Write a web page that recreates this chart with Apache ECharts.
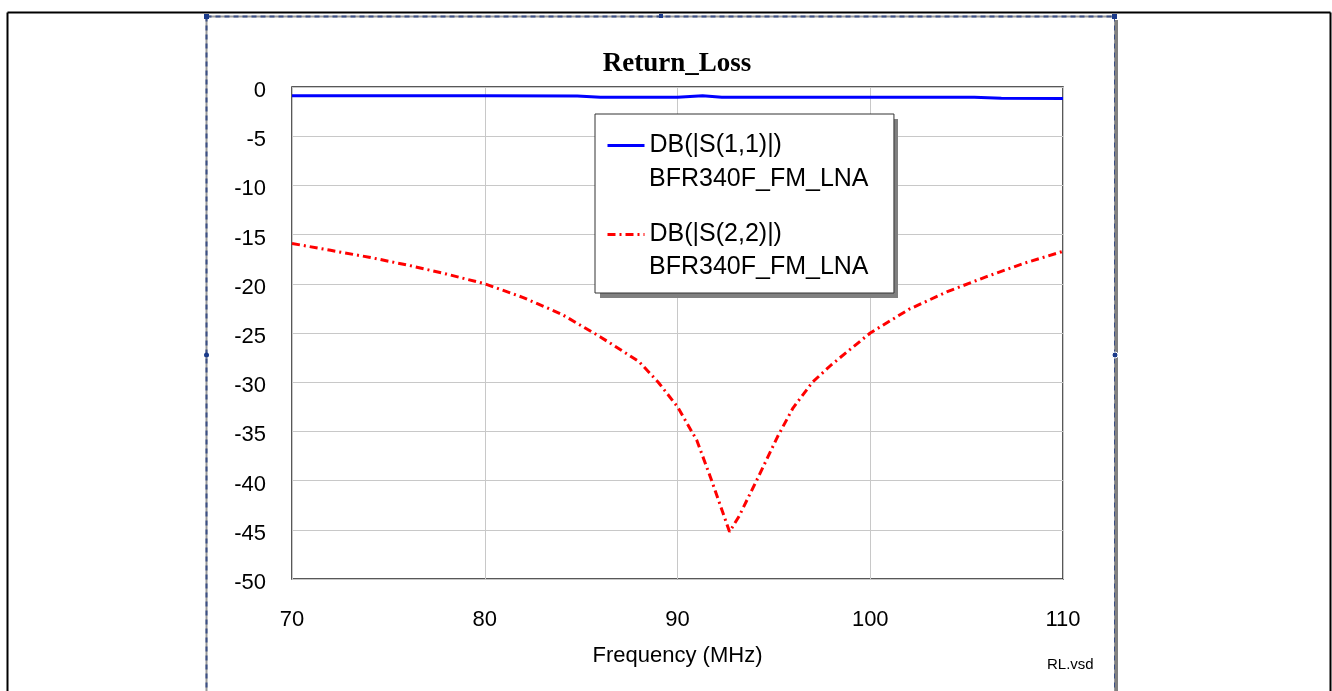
<!DOCTYPE html>
<html>
<head>
<meta charset="utf-8">
<script src="https://cdn.jsdelivr.net/npm/echarts@6/dist/echarts.min.js"></script>
<style>html,body{margin:0;padding:0;background:#fff;}#c{width:1332px;height:691px;}</style>
</head>
<body>
<div id="c"></div>
<script>
// ---- data ----
const s11Freq = [70, 75, 80, 84.8, 86, 88, 90, 91.3, 92.3, 95, 100, 105.4, 106.8, 110];
const s11Db   = [-0.9, -0.9, -0.9, -0.92, -1.05, -1.05, -1.05, -0.9, -1.05, -1.05, -1.05, -1.05, -1.15, -1.18];
const s22Freq = [70, 72, 74, 76, 78, 80, 82, 84, 86, 88, 89, 90, 91, 91.7, 92.7, 93.2, 94.2, 95.2, 96, 97, 98, 100, 102, 104, 106, 108, 110];
const s22Db   = [-15.9, -16.6, -17.3, -18.1, -19.0, -20.0, -21.4, -23.1, -25.4, -27.9, -30.0, -32.5, -35.9, -39.6, -45.2, -43.6, -39.6, -35.5, -32.6, -30.0, -28.2, -25.0, -22.6, -20.8, -19.3, -17.9, -16.7];
const seriesNames = ['DB(|S(1,1)|)', 'DB(|S(2,2)|)'];
const seriesSub = ['BFR340F_FM_LNA', 'BFR340F_FM_LNA'];
const xTicks = {min: 70, max: 110, step: 10};
const yTicks = {min: -50, max: 0, step: 5};
const titleText = 'Return_Loss';
const xName = 'Frequency (MHz)';
const noteText = 'RL.vsd';

const pair = (xs, ys) => xs.map((x, i) => [x, ys[i]]);
const FONT = 'Arial, "Liberation Sans", sans-serif';

const chart = echarts.init(document.getElementById('c'), null, {renderer: 'canvas'});

const frameDash = '#3a4f86';
const graphics = [
  // outer black frame
  {type: 'line', shape: {x1: 7.5, y1: 12.5, x2: 1330.5, y2: 12.5}, style: {stroke: '#000', lineWidth: 2}, z: 50},
  {type: 'line', shape: {x1: 7.5, y1: 12.5, x2: 7.5, y2: 700}, style: {stroke: '#000', lineWidth: 2}, z: 50},
  {type: 'line', shape: {x1: 1330.5, y1: 12.5, x2: 1330.5, y2: 700}, style: {stroke: '#000', lineWidth: 2}, z: 50},
  // right shadow of dashed frame
  {type: 'rect', shape: {x: 1114, y: 20, width: 4, height: 700}, style: {fill: '#808080'}, z: 50},
  // dashed selection frame (gray base + blue dashes)
  {type: 'line', shape: {x1: 206.5, y1: 16.5, x2: 1114.5, y2: 16.5}, style: {stroke: '#9a9a9a', lineWidth: 2}, z: 51},
  {type: 'line', shape: {x1: 206.5, y1: 16.5, x2: 206.5, y2: 700}, style: {stroke: '#9a9a9a', lineWidth: 2}, z: 51},
  {type: 'line', shape: {x1: 1114.5, y1: 16.5, x2: 1114.5, y2: 700}, style: {stroke: '#9a9a9a', lineWidth: 1}, z: 51},
  {type: 'line', shape: {x1: 206.5, y1: 16.5, x2: 1114.5, y2: 16.5}, style: {stroke: frameDash, lineWidth: 2, lineDash: [5, 4]}, z: 52},
  {type: 'line', shape: {x1: 206.5, y1: 16.5, x2: 206.5, y2: 700}, style: {stroke: frameDash, lineWidth: 2, lineDash: [5, 4]}, z: 52},
  {type: 'line', shape: {x1: 1114.5, y1: 16.5, x2: 1114.5, y2: 700}, style: {stroke: frameDash, lineWidth: 1, lineDash: [5, 4]}, z: 52},
  // handles
  {type: 'rect', shape: {x: 204, y: 14, width: 5, height: 5}, style: {fill: '#1a3a8a'}, z: 53},
  {type: 'rect', shape: {x: 659, y: 14, width: 4, height: 4}, style: {fill: '#1a3a8a'}, z: 53},
  {type: 'rect', shape: {x: 1112, y: 14, width: 5, height: 5}, style: {fill: '#1a3a8a'}, z: 53},
  {type: 'circle', shape: {cx: 206.5, cy: 355, r: 2.5}, style: {fill: '#1a3a8a'}, z: 53},
  {type: 'circle', shape: {cx: 1115, cy: 355, r: 3}, style: {fill: '#1a3a8a', stroke: '#fff', lineWidth: 1}, z: 53},
  // legend drop shadow (behind the legend box)
  {type: 'rect', shape: {x: 600, y: 119, width: 298, height: 179}, style: {fill: '#808080'}, z: 5},
  // legend sub-lines
  {type: 'text', left: 649, top: 167, style: {text: seriesSub[0], font: '25px ' + FONT, fill: '#000'}, z: 60},
  {type: 'text', left: 649, top: 255, style: {text: seriesSub[1], font: '25px ' + FONT, fill: '#000'}, z: 60},
  // file note
  {type: 'text', left: 1047, top: 657, style: {text: noteText, font: '15px ' + FONT, fill: '#000'}, z: 60}
];

const option = {
  backgroundColor: '#fff',
  animation: false,
  title: {
    text: titleText,
    left: 677,
    top: 51,
    textAlign: 'center',
    padding: 0,
    textStyle: {fontFamily: '"Liberation Serif", "Times New Roman", serif', fontWeight: 'bold', fontSize: 27, color: '#000'}
  },
  grid: {left: 292, right: 269, top: 87, bottom: 112, show: true, borderColor: '#222', borderWidth: 1.5, backgroundColor: 'transparent'},
  legend: {
    orient: 'vertical',
    left: 595,
    top: 114,
    padding: [19, 112, 46, 11],
    itemGap: 64,
    itemWidth: 37,
    itemHeight: 20,
    backgroundColor: '#fff',
    borderColor: '#333',
    borderWidth: 1,
    itemStyle: {opacity: 0},
    lineStyle: {width: 3},
    textStyle: {fontFamily: FONT, fontSize: 25, color: '#000'},
    data: seriesNames,
    z: 10
  },
  xAxis: {
    type: 'value',
    min: xTicks.min, max: xTicks.max, interval: xTicks.step,
    name: xName,
    nameLocation: 'middle',
    nameGap: 66,
    nameTextStyle: {fontFamily: FONT, fontSize: 22, color: '#000'},
    axisLine: {show: false},
    axisTick: {show: false},
    axisLabel: {fontFamily: FONT, fontSize: 22, color: '#000', margin: 30},
    splitLine: {show: true, lineStyle: {color: '#c8c8c8', width: 1}}
  },
  yAxis: {
    type: 'value',
    min: yTicks.min, max: yTicks.max, interval: yTicks.step,
    axisLine: {show: false},
    axisTick: {show: false},
    axisLabel: {fontFamily: FONT, fontSize: 22, color: '#000', margin: 26, verticalAlign: 'top', lineHeight: 8},
    splitLine: {show: true, lineStyle: {color: '#c8c8c8', width: 1}}
  },
  series: [
    {
      name: seriesNames[0], type: 'line', data: pair(s11Freq, s11Db),
      symbol: 'none', smooth: false, color: '#0000ff',
      lineStyle: {color: '#0000ff', width: 3}, z: 3
    },
    {
      name: seriesNames[1], type: 'line', data: pair(s22Freq, s22Db),
      symbol: 'none', smooth: false, color: '#ff0000',
      lineStyle: {color: '#ff0000', width: 3, type: [8, 4, 2, 4]}, z: 3
    }
  ],
  graphic: graphics
};
chart.setOption(option);
</script>
</body>
</html>
